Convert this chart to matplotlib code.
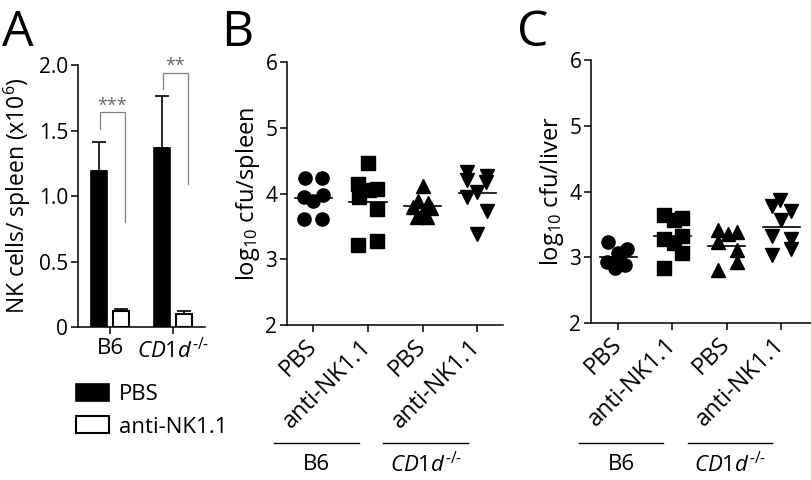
import matplotlib
matplotlib.use("Agg")
import matplotlib.pyplot as plt
import numpy as np
from matplotlib.transforms import blended_transform_factory

plt.rcParams['font.family'] = ['Open Sans', 'DejaVu Sans']
plt.rcParams['mathtext.fontset'] = 'custom'
plt.rcParams['mathtext.rm'] = 'Open Sans'
plt.rcParams['mathtext.it'] = 'Open Sans:italic'

# ---------------- Data ----------------
# Panel A
strains = ["B6", r"$\mathit{CD1d}^{\text{-/-}}$"]
pbs_mean = [1.19, 1.37]
pbs_err = [0.22, 0.39]
nk_mean = [0.12, 0.10]
nk_err = [0.015, 0.025]
sig_labels = ["***", "**"]
sig_left_y = [1.51, 1.82]
sig_top_y = [1.645, 1.94]
sig_right_y = [0.80, 1.09]
sig_text_y = [1.69, 1.99]

# Panels B & C
groups = ["PBS", "anti-NK1.1", "PBS", "anti-NK1.1"]
strain_groups = ["B6", r"$\mathit{CD1d}^{\text{-/-}}$"]

spleen_vals = [
    [4.24, 4.24, 3.94, 3.89, 3.98, 3.61, 3.61],
    [4.47, 4.14, 4.05, 4.07, 3.94, 3.76, 3.22, 3.27],
    [4.11, 3.89, 3.86, 3.80, 3.78, 3.72, 3.65, 3.64],
    [4.32, 4.27, 4.20, 4.17, 4.02, 3.94, 3.74, 3.39],
]
spleen_off = [
    [-0.15, 0.16, -0.16, 0.0, 0.18, -0.16, 0.16],
    [0.0, -0.18, 0.02, 0.16, -0.17, 0.16, -0.18, 0.16],
    [0.0, -0.08, 0.09, -0.17, 0.15, 0.0, -0.10, 0.08],
    [-0.18, 0.17, -0.18, 0.16, 0.0, -0.18, 0.18, 0.0],
]
liver_vals = [
    [3.23, 3.13, 3.07, 2.93, 2.83, 2.88, 2.95],
    [3.64, 3.60, 3.57, 3.33, 3.28, 3.21, 3.07, 2.84],
    [3.41, 3.36, 3.39, 3.23, 3.11, 2.93, 2.81],
    [3.87, 3.78, 3.71, 3.56, 3.33, 3.27, 3.12, 3.03],
]
liver_off = [
    [-0.18, 0.16, 0.0, -0.21, -0.05, 0.13, 0.03],
    [-0.16, 0.18, 0.02, 0.18, -0.16, 0.02, 0.18, -0.16],
    [-0.16, 0.02, 0.18, -0.16, 0.18, 0.18, -0.16],
    [-0.02, -0.17, 0.18, 0.0, -0.17, 0.18, 0.18, -0.17],
]
markers = ['o', 's', '^', 'v']

FS = 15

fig = plt.figure(figsize=(8.11, 4.8), dpi=100)

def style_axes(ax):
    for s in ['top', 'right']:
        ax.spines[s].set_visible(False)
    for s in ['left', 'bottom']:
        ax.spines[s].set_linewidth(1.1)
    ax.tick_params(axis='both', direction='out', length=5, width=1.1,
                   labelsize=FS, pad=2)

# ---------------- Panel A ----------------
axA = fig.add_axes([78/811, 1-327/480, 127/811, 262/480])
style_axes(axA)
x = np.arange(len(strains))
off = 0.18
w = 0.254
axA.bar(x - off, pbs_mean, w, color='black', edgecolor='black', lw=1.2,
        label='PBS', zorder=3)
axA.bar(x + off, nk_mean, w, color='white', edgecolor='black', lw=1.5,
        label='anti-NK1.1', zorder=3)
axA.errorbar(x - off, pbs_mean, yerr=[np.zeros(2), pbs_err], fmt='none',
             ecolor='black', elinewidth=1.2, capsize=5, capthick=1.2, zorder=2)
axA.errorbar(x + off, nk_mean, yerr=[np.zeros(2), nk_err], fmt='none',
             ecolor='black', elinewidth=1.2, capsize=5, capthick=1.2, zorder=2)
for i in range(len(strains)):
    xl = x[i] - off + 0.015
    xr = x[i] + off + 0.06
    axA.plot([xl, xl, xr, xr], [sig_left_y[i], sig_top_y[i], sig_top_y[i], sig_right_y[i]],
             color='#808080', lw=0.9)
    axA.text((xl + xr) / 2, sig_text_y[i], sig_labels[i], ha='center', va='center',
             fontsize=13, color='#666666')
axA.set_xlim(-0.51, 1.51)
axA.set_ylim(0, 2.0)
axA.set_yticks([0, 0.5, 1.0, 1.5, 2.0])
axA.set_yticklabels(['0', '0.5', '1.0', '1.5', '2.0'])
axA.set_xticks(x)
axA.set_xticklabels(strains, fontsize=16)
axA.tick_params(axis='x', pad=3)
axA.set_ylabel(r"NK cells/ spleen (x10$^{6}$)", fontsize=16.5, labelpad=4)
axA.legend(loc='upper left', bbox_to_anchor=(76/811, 1 - 384/480),
           bbox_transform=fig.transFigure, frameon=False,
           fontsize=16, handlelength=1.5, handleheight=0.8, handletextpad=0.45,
           labelspacing=0.5, borderaxespad=0, borderpad=0)

# ---------------- Panels B & C ----------------
def scatter_panel(rect, vals, offs, ylabel, xlim):
    ax = fig.add_axes(rect)
    style_axes(ax)
    for i, (v, o) in enumerate(zip(vals, offs)):
        xs = (i + 1) + np.array(o)
        ax.plot(xs, v, linestyle='none', marker=markers[i], ms=9.5,
                color='black', zorder=3)
        m = np.mean(v)
        ax.plot([i + 1 - 0.34, i + 1 + 0.34], [m, m], color='black', lw=1.2, zorder=4)
    ax.set_xlim(*xlim)
    ax.set_ylim(2, 6)
    ax.set_yticks([2, 3, 4, 5, 6])
    ax.set_xticks(np.arange(1, len(groups) + 1))
    ax.set_xticklabels(groups, rotation=45, ha='right', va='center',
                       rotation_mode='anchor', fontsize=17)
    ax.tick_params(axis='x', pad=8)
    ax.set_ylabel(ylabel, fontsize=17, labelpad=2)
    tr = blended_transform_factory(ax.transData, fig.transFigure)
    line_y = 1 - 443/480
    text_y = 1 - 465/480
    for j, (a, b) in enumerate([(0.28, 1.83), (2.28, 3.83)]):
        ax.plot([a, b], [line_y, line_y], color='black', lw=1.0, transform=tr,
                clip_on=False)
        ax.text((a + b) / 2, text_y, strain_groups[j], transform=tr, ha='center',
                va='center', fontsize=16)
    return ax

axB = scatter_panel([287/811, 1-325/480, 216/811, 263/480], spleen_vals, spleen_off,
                    r"log$_{10}$ cfu/spleen", (0.52, 4.47))
axC = scatter_panel([591/811, 1-323/480, 220/811, 263/480], liver_vals, liver_off,
                    r"log$_{10}$ cfu/liver", (0.5, 4.55))

# Panel letters
for lbl, px in [("A", 2), ("B", 221), ("C", 517)]:
    fig.text(px/811, 1 - 46/480, lbl, fontsize=36, ha='left', va='baseline')

fig.savefig("out.png", dpi=100)
